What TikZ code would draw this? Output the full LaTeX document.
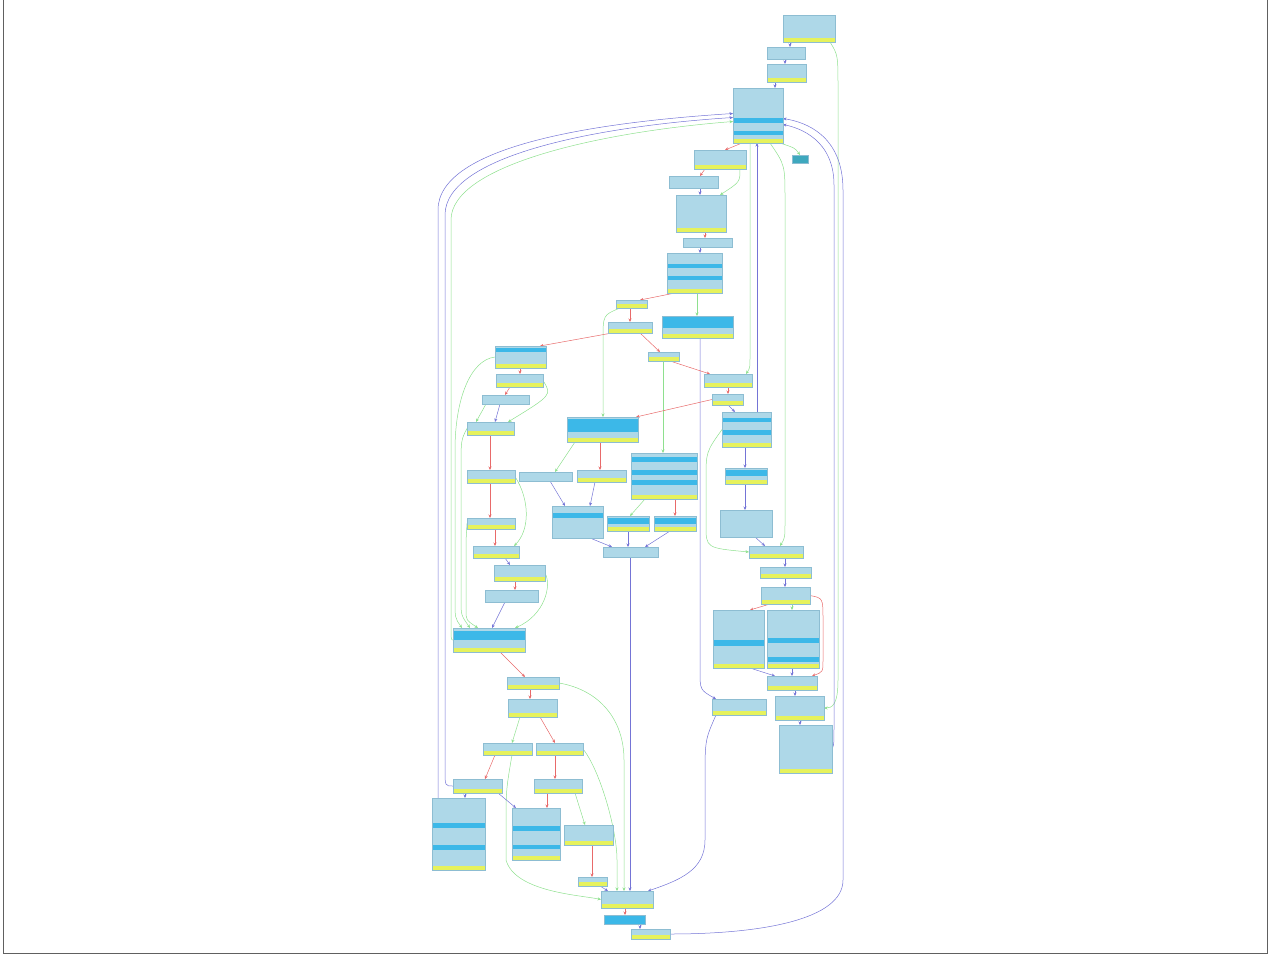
\documentclass[tikz,border=0pt]{standalone}
\usetikzlibrary{arrows.meta,backgrounds}
\definecolor{bx}{HTML}{AED8E8}
\definecolor{bxd}{HTML}{8DBDD2}
\definecolor{yel}{HTML}{E6F25C}
\definecolor{dkc}{HTML}{3CB8E8}
\definecolor{teal}{HTML}{3EA8BE}
\definecolor{ered}{HTML}{E86A6A}
\definecolor{egreen}{HTML}{8EE08E}
\definecolor{eblue}{HTML}{7474D6}
\definecolor{frame}{HTML}{606060}
\tikzset{
  blkbox/.style={fill=bx, inner sep=0pt, outer sep=0pt},
  e/.style={line width=0.5pt, -{Stealth[length=3.5pt,width=3pt]}},
  er/.style={e, draw=ered},
  eg/.style={e, draw=egreen},
  eb/.style={e, draw=eblue},
}
\newcommand\blk[6][yel]{%
  \node[blkbox, minimum width={(#5-#3)*1pt}, minimum height={(#6-#4)*1pt}] (#2) at ({(#3+#5)/2},{(#4+#6)/2}) {};
  \fill[#1] (#2.south west) rectangle ([yshift=4.5pt]#2.south east);
}
\newcommand\dk[3]{\fill[dkc] (#1.west |- 0,#2) rectangle (#1.east |- 0,#3);}
\newcommand\bord[1]{\draw[bxd, line width=0.4pt] (#1.south west) rectangle (#1.north east);}
\begin{document}
\begin{tikzpicture}[x=1pt,y=-1pt]
\useasboundingbox (0,0) rectangle (1270,956);
\draw[frame, line width=0.8pt] (3,0) -- (3,953) -- (1267,953) -- (1267,0);

% ---------- blocks ----------
\blk{b1}{783}{15}{835}{42}
\blk[bx]{b2}{767}{47}{805}{59}
\blk{b3}{767}{64}{806}{82}
\blk{b4}{733}{88}{783}{143}
\dk{b4}{118}{123}\dk{b4}{131}{135}
\blk[teal]{b5}{792}{155}{808}{163}
\fill[teal] (b5.south west) rectangle (b5.north east);
\blk{b6}{694}{150}{746}{169}
\blk[bx]{b7}{669}{176}{718}{188}
\blk{b8}{676}{195}{726}{232}
\blk[bx]{b9}{683}{238}{732}{247}
\blk{b10}{667}{253}{722}{293}
\dk{b10}{264}{268}\dk{b10}{276}{280}
\blk{b11}{616}{300}{647}{308}
\blk{b12}{608}{322}{652}{333}
\blk{b13}{662}{316}{733}{338}
\dk{b13}{317}{328}
\blk{b14}{495}{346}{546}{368}
\dk{b14}{348}{352}
\blk{b15}{648}{352}{679}{361}
\blk{b16}{496}{374}{543}{387}
\blk{b17}{704}{374}{752}{387}
\blk[bx]{b18}{482}{395}{529}{404}
\blk{b19}{712}{394}{743}{405}
\blk{b20}{722}{412}{771}{447}
\dk{b20}{418}{422}\dk{b20}{430}{435}
\blk{b21}{467}{422}{514}{435}
\blk{b22}{567}{417}{638}{442}
\dk{b22}{419}{432}
\blk{b23}{631}{453}{697}{499}
\dk{b23}{457}{462}\dk{b23}{470}{475}\dk{b23}{480}{485}
\blk{b24}{467}{470}{515}{483}
\blk[bx]{b25}{519}{472}{572}{481}
\blk{b26}{577}{470}{626}{482}
\blk{b27}{725}{468}{767}{484}
\dk{b27}{470}{476}
\blk{b28}{467}{518}{515}{529}
\blk[bx]{b29}{552}{506}{603}{538}
\dk{b29}{513}{518}
\blk{b30}{607}{516}{649}{531}
\dk{b30}{518}{524}
\blk{b31}{654}{516}{696}{531}
\dk{b31}{518}{524}
\blk[bx]{b32}{720}{510}{772}{537}
\blk{b33}{473}{546}{519}{558}
\blk[bx]{b34}{603}{547}{658}{557}
\blk{b35}{749}{546}{803}{558}
\blk{b36}{494}{565}{545}{581}
\blk{b37}{760}{567}{811}{578}
\blk[bx]{b38}{485}{590}{538}{602}
\blk{b39}{761}{587}{810}{604}
\blk{b40}{713}{610}{764}{668}
\dk{b40}{640}{646}
\blk{b41}{767}{610}{819}{668}
\dk{b41}{638}{643}\dk{b41}{657}{662}
\blk{b42}{453}{628}{525}{652}
\dk{b42}{631}{640}
\blk{b43}{767}{676}{817}{690}
\blk{b44}{507}{677}{559}{689}
\blk{b45}{712}{699}{766}{715}
\blk{b46}{775}{696}{824}{720}
\blk{b47}{508}{699}{557}{717}
\blk{b48}{779}{725}{832}{773}
\blk{b49}{483}{743}{532}{755}
\blk{b50}{536}{743}{583}{755}
\blk{b51}{453}{779}{502}{793}
\blk{b52}{534}{779}{582}{793}
\blk{b53}{432}{798}{485}{870}
\dk{b53}{823}{828}\dk{b53}{845}{850}
\blk{b54}{512}{808}{560}{860}
\dk{b54}{826}{831}\dk{b54}{845}{849}
\blk{b55}{564}{825}{613}{845}
\blk{b56}{578}{877}{607}{886}
\blk{b57}{601}{891}{653}{908}
\blk[dkc]{b58}{604}{915}{645}{924}
\fill[dkc] (b58.south west) rectangle (b58.north east);
\blk{b59}{631}{929}{670}{939}
\foreach \n in {1,...,59}{\bord{b\n}}

% ---------- edges ----------
\begin{scope}[on background layer]
\draw[eb] (b1.south -| 790,0) -- (b2.north -| 790,0);
\draw[eb] (b2.south -| 785,0) -- (b3.north -| 785,0);
\draw[eb] (b3.south -| 775,0) -- (b4.north -| 775,0);
\draw[eg] (b1.south -| 830,0) .. controls (838,55) .. (838,90) -- (838,680) .. controls (838,705) and (832,708) .. (b46.east);
\draw[er] (b4.south -| 742,0) -- (b6.north -| 725,0);
\draw[eg] (b4.south -| 780,0) .. controls (795,148) .. (b5.north);
\draw[eb] (b20.north -| 757,0) -- (b4.south -| 757,0);
\draw[eg] (b4.south -| 770,0) .. controls (785,165) .. (785,200) -- (785,520) .. controls (785,538) .. (b35.north -| 780,0);
\draw[eg] (b4.south -| 750,0) -- (750,355) .. controls (750,368) .. (b17.north -| 746,0);
\draw[er] (b6.south -| 705,0) -- (b7.north -| 700,0);
\draw[eg] (b6.south -| 740,0) .. controls (740,182) .. (b8.north -| 720,0);
\draw[eb] (b7.south -| 700,0) -- (b8.north -| 700,0);
\draw[er] (b8.south -| 705,0) -- (b9.north -| 705,0);
\draw[eb] (b9.south -| 700,0) -- (b10.north -| 700,0);
\draw[er] (b10.south -| 675,0) -- (b11.north -| 640,0);
\draw[eg] (b10.south -| 697,0) -- (b13.north -| 697,0);
\draw[er] (b11.south -| 630,0) -- (b12.north -| 630,0);
\draw[eg] (b11.south -| 620,0) .. controls (603,315) .. (603,340) -- (b22.north -| 603,0);
\draw[er] (b12.south -| 612,0) -- (b14.north -| 540,0);
\draw[er] (b12.south -| 640,0) -- (b15.north -| 660,0);
\draw[eb] (b13.south -| 700,0) -- (700,670) .. controls (700,690) .. (b45.north -| 716,0);
\draw[er] (b14.south -| 520,0) -- (b16.north -| 520,0);
\draw[eg] (b14.west) .. controls (470,360) and (455,400) .. (455,450) -- (455,600) .. controls (455,618) .. (b42.north -| 462,0);
\draw[er] (b15.south -| 670,0) -- (b17.north -| 710,0);
\draw[eg] (b15.south -| 663,0) -- (b23.north -| 663,0);
\draw[er] (b16.south -| 510,0) -- (b18.north -| 505,0);
\draw[eg] (b16.east) .. controls (552,395) .. (b21.north -| 508,0);
\draw[er] (b17.south -| 728,0) -- (b19.north -| 728,0);
\draw[eb] (b18.south -| 500,0) -- (b21.north -| 495,0);
\draw[eg] (b18.south -| 486,0) -- (b21.north -| 476,0);
\draw[eb] (b19.south -| 728,0) -- (b20.north -| 735,0);
\draw[er] (b19.west) -- (b22.north -| 636,0);
\draw[eb] (b20.south -| 745,0) -- (b27.north -| 745,0);
\draw[eg] (b20.west) .. controls (706,452) .. (706,480) -- (706,525) .. controls (706,548) .. (b35.west);
\draw[er] (b21.south -| 490,0) -- (b24.north -| 490,0);
\draw[eg] (b21.west) .. controls (461,440) .. (461,470) -- (461,600) .. controls (461,615) .. (b42.north -| 470,0);
\draw[eg] (b22.south -| 575,0) -- (b25.north -| 555,0);
\draw[er] (b22.south -| 600,0) -- (b26.north -| 600,0);
\draw[eg] (b23.south -| 645,0) -- (b30.north -| 630,0);
\draw[er] (b23.south -| 675,0) -- (b31.north -| 675,0);
\draw[er] (b24.south -| 490,0) -- (b28.north -| 490,0);
\draw[eg] (b24.east) .. controls (530,500) and (530,530) .. (b33.north -| 514,0);
\draw[eb] (b25.south -| 550,0) -- (b29.north -| 565,0);
\draw[eb] (b26.south -| 595,0) -- (b29.north -| 590,0);
\draw[eb] (b27.south -| 745,0) -- (b32.north -| 745,0);
\draw[er] (b28.south -| 495,0) -- (b33.north -| 495,0);
\draw[eg] (b28.west) .. controls (466,540) .. (466,560) -- (466,610) .. controls (466,620) .. (b42.north -| 478,0);
\draw[eb] (b29.south -| 590,0) -- (b34.north -| 612,0);
\draw[eb] (b30.south -| 628,0) -- (b34.north -| 628,0);
\draw[eb] (b31.south -| 670,0) -- (b34.north -| 645,0);
\draw[eb] (b32.south -| 755,0) -- (b35.north -| 765,0);
\draw[eb] (b33.south -| 505,0) -- (b36.north -| 510,0);
\draw[eb] (b34.south -| 630,0) -- (b57.north -| 630,0);
\draw[eb] (b35.south -| 785,0) -- (b37.north -| 785,0);
\draw[er] (b36.south -| 515,0) -- (b38.north -| 515,0);
\draw[eg] (b36.east) .. controls (552,585) and (545,615) .. (b42.north -| 515,0);
\draw[eb] (b37.south -| 785,0) -- (b39.north -| 785,0);
\draw[eb] (b38.south -| 505,0) -- (b42.north -| 492,0);
\draw[er] (b39.south -| 770,0) -- (b40.north -| 750,0);
\draw[eg] (b39.south -| 792,0) -- (b41.north -| 792,0);
\draw[er] (b39.east) .. controls (823,598) .. (823,620) -- (823,660) .. controls (823,672) .. (b43.north -| 812,0);
\draw[eb] (b40.south -| 750,0) -- (b43.north -| 775,0);
\draw[eb] (b41.south -| 792,0) -- (b43.north -| 792,0);
\draw[eb] (b43.south -| 795,0) -- (b46.north -| 795,0);
\draw[eb] (b46.south -| 800,0) -- (b48.north -| 800,0);
\draw[eb] (b48.east) .. controls (834,745) .. (834,720) -- (834,185) .. controls (834,140) and (800,128) .. ([yshift=-9pt]b4.east);
\draw[er] (b42.south -| 500,0) -- (b44.north -| 525,0);
\draw[er] (b44.south -| 530,0) -- (b47.north -| 530,0);
\draw[eg] (b44.east) .. controls (600,690) and (624,720) .. (624,760) -- (624,870) .. controls (624,880) .. (b57.north -| 624,0);
\draw[eg] (b47.south -| 520,0) -- (b49.north -| 512,0);
\draw[er] (b47.south -| 540,0) -- (b50.north -| 555,0);
\draw[er] (b49.south -| 495,0) -- (b51.north -| 485,0);
\draw[eg] (b49.south -| 512,0) .. controls (506,790) .. (506,830) -- (506,860) .. controls (515,892) and (580,895) .. (b57.west);
\draw[er] (b50.south -| 555,0) -- (b52.north -| 555,0);
\draw[eg] (b50.east) .. controls (600,770) and (617,830) .. (617,860) .. controls (617,880) .. (b57.north -| 617,0);
\draw[eb] (b51.south -| 465,0) -- (b53.north -| 465,0);
\draw[eb] (b51.south -| 498,0) -- (b54.north -| 516,0);
\draw[er] (b52.south -| 547,0) -- (b54.north -| 547,0);
\draw[eg] (b52.south -| 575,0) -- (b55.north -| 585,0);
\draw[er] (b55.south -| 592,0) -- (b56.north -| 592,0);
\draw[eb] (b56.south -| 600,0) -- (b57.north -| 608,0);
\draw[eb] (b45.south -| 716,0) .. controls (705,740) .. (705,780) -- (705,840) .. controls (705,870) and (680,880) .. (b57.north -| 648,0);
\draw[er] (b57.south -| 625,0) -- (b58.north -| 625,0);
\draw[eb] (b58.south -| 640,0) -- (b59.north -| 640,0);
\draw[eb] (b59.east) .. controls (760,934) and (843,920) .. (843,880) -- (843,190) .. controls (843,135) and (805,122) .. ([yshift=-3pt]b4.east);
% left loops
\draw[eb] (b53.north -| 438,0) -- (438,210) .. controls (438,145) and (600,122) .. ([yshift=2pt]b4.west);
\draw[eb] (b51.west) .. controls (445,786) .. (445,770) -- (445,215) .. controls (445,155) and (600,126) .. ([yshift=-2pt]b4.west);
\draw[eg] (b42.west) .. controls (451,640) .. (451,620) -- (451,220) .. controls (451,165) and (600,132) .. ([yshift=-6pt]b4.west);
\end{scope}
\end{tikzpicture}
\end{document}
